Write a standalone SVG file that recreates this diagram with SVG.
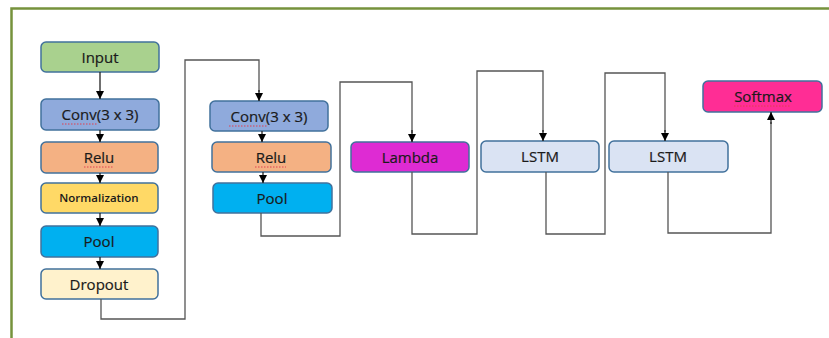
<svg xmlns="http://www.w3.org/2000/svg" width="829" height="338" viewBox="0 0 829 338">
<defs>
<marker id="ah" viewBox="0 0 10 10" refX="10" refY="5" markerWidth="8" markerHeight="8" markerUnits="userSpaceOnUse" orient="auto">
<path d="M0,0 L10,5 L0,10 z" fill="#000"/>
</marker>
<style>
.box{stroke:#41719C;stroke-width:1.5}
.t{font-family:"Open Sans","Liberation Sans",sans-serif;font-size:15px;fill:#1a1a1a;text-anchor:middle;stroke:#1a1a1a;stroke-width:0.2}
.c{fill:none;stroke:#555;stroke-width:1.3}
.a{fill:none;stroke:#222;stroke-width:1.3;marker-end:url(#ah)}
.sq{fill:none;stroke:#e04050;stroke-width:1;stroke-dasharray:1.5 1.5}
</style>
</defs>
<rect width="829" height="338" fill="#fff"/>
<path d="M11.5,338 L11.5,8.5 L829,8.5" fill="none" stroke="#76923C" stroke-width="2.5"/>

<g id="input"><rect class="box" x="41" y="42" width="118" height="30" rx="5" fill="#A9D18E"/><text class="t" x="100" y="63">Input</text></g>
<g id="conv1"><rect class="box" x="41" y="99" width="118" height="31" rx="5" fill="#8FAADC"/><text class="t" x="100" y="120">Conv(3 x 3)</text><path class="sq" d="M62,124 H98"/></g>
<g id="relu1"><rect class="box" x="41" y="142" width="117" height="31" rx="5" fill="#F4B183"/><text class="t" x="99" y="163">Relu</text><path class="sq" d="M84,167 H114"/></g>
<g id="norm"><rect class="box" x="41" y="183" width="117" height="30" rx="5" fill="#FFD966"/><text class="t" x="99" y="202" style="font-size:11.5px;font-weight:600;stroke-width:0">Normalization</text></g>
<g id="pool1"><rect class="box" x="41" y="226" width="117" height="31" rx="5" fill="#00B0F0"/><text class="t" x="99" y="247">Pool</text></g>
<g id="dropout"><rect class="box" x="41" y="269" width="117" height="30" rx="5" fill="#FFF2CC"/><text class="t" x="99" y="290">Dropout</text></g>

<g id="conv2"><rect class="box" x="210" y="101" width="118" height="30" rx="5" fill="#8FAADC"/><text class="t" x="269" y="122">Conv(3 x 3)</text><path class="sq" d="M229,126 H268"/></g>
<g id="relu2"><rect class="box" x="212" y="142" width="119" height="30" rx="5" fill="#F4B183"/><text class="t" x="271" y="163">Relu</text><path class="sq" d="M255,167 H286"/></g>
<g id="pool2"><rect class="box" x="213" y="183" width="119" height="30" rx="5" fill="#00B0F0"/><text class="t" x="272" y="204">Pool</text></g>

<g id="lambda"><rect class="box" x="351" y="142" width="118" height="30" rx="5" fill="#DE2BD3"/><text class="t" x="410" y="163">Lambda</text></g>
<g id="lstm1"><rect class="box" x="481" y="141" width="118" height="31" rx="5" fill="#DAE3F3"/><text class="t" x="540" y="162">LSTM</text></g>
<g id="lstm2"><rect class="box" x="609" y="141" width="119" height="31" rx="5" fill="#DAE3F3"/><text class="t" x="668" y="162">LSTM</text></g>
<g id="softmax"><rect class="box" x="703" y="81" width="119" height="31" rx="5" fill="#FF2D95"/><text class="t" x="763" y="102">Softmax</text><path class="sq" d="M734,106 H791"/></g>

<g id="connectors">
<path class="a" d="M100,72 V99"/>
<path class="a" d="M100,130 V142"/>
<path class="a" d="M100,173 V183"/>
<path class="a" d="M100,213 V226"/>
<path class="a" d="M100,257 V269"/>
<path class="c" d="M101,299 V319 H185 V60 H259 V92"/>
<path class="a" d="M259,90 V101"/>
<path class="a" d="M262,131 V142"/>
<path class="a" d="M263,172 V183"/>
<path class="c" d="M261,213 V236 H340 V82 H412 V133"/>
<path class="a" d="M412,130 V142"/>
<path class="c" d="M412,172 V234 H477 V71 H543 V132"/>
<path class="a" d="M543,130 V141"/>
<path class="c" d="M546,172 V234 H605 V73 H665 V132"/>
<path class="a" d="M665,130 V141"/>
<path class="c" d="M668,172 V233 H771 V122"/>
<path class="a" d="M771,124 V112"/>
</g>
</svg>
